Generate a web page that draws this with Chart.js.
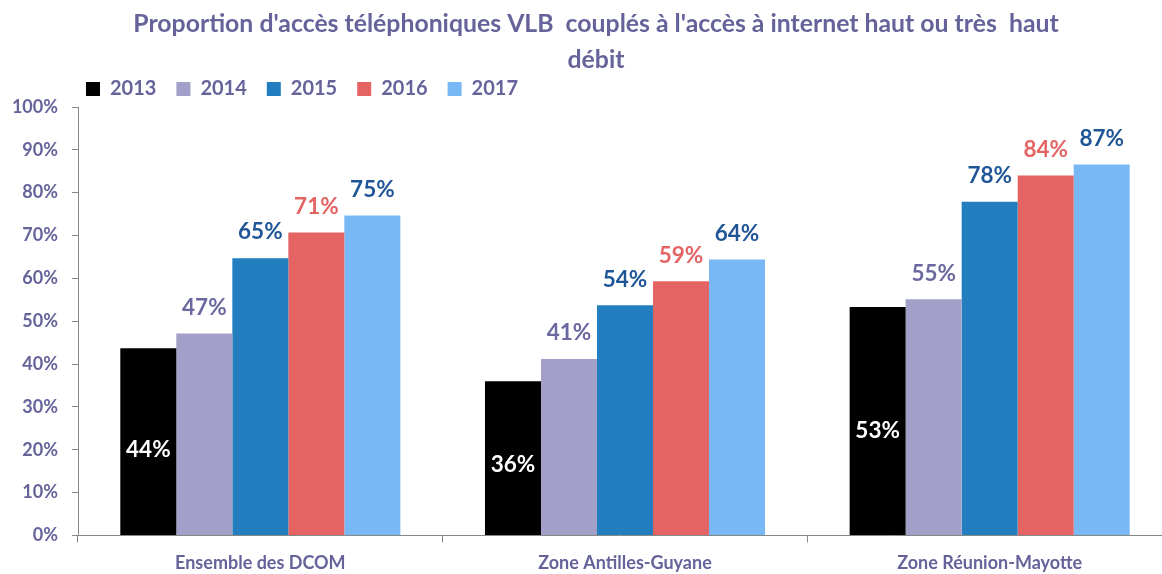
<!DOCTYPE html>
<html>
<head>
<meta charset="utf-8">
<script src="https://cdn.jsdelivr.net/npm/chart.js@4/dist/chart.umd.min.js"></script>
<style>
  html, body { margin: 0; padding: 0; background: #fff; }
  #wrap { width: 1162px; height: 574px; }
</style>
</head>
<body>
<div id="wrap"><canvas id="accessChart" width="1162" height="574"></canvas></div>
<script>
// categories and values (percent)
const categories = ['Ensemble des DCOM', 'Zone Antilles-Guyane', 'Zone Réunion-Mayotte'];
const years = ['2013', '2014', '2015', '2016', '2017'];
const values2013 = [43.7, 36.0, 53.3];
const values2014 = [47.1, 41.2, 55.1];
const values2015 = [64.7, 53.7, 77.9];
const values2016 = [70.7, 59.3, 84.0];
const values2017 = [74.7, 64.4, 86.6];
const yTicks = [0, 10, 20, 30, 40, 50, 60, 70, 80, 90, 100];

const barColors = ['#000000', '#A29FC9', '#237EC0', '#E46464', '#78B9F5'];
const labelColors = ['#FFFFFF', '#6B689F', '#1F5597', '#E46464', '#1F5597'];
const textColor = '#65639A';
const axisColor = '#878787';
const fontFamily = "Lato, 'Open Sans', sans-serif";

document.addEventListener('DOMContentLoaded', function() {
    const ctx = document.getElementById('accessChart').getContext('2d');
    const seriesValues = [values2013, values2014, values2015, values2016, values2017];

    // value labels: first series inside the bar, others above it
    const valueLabels = {
        id: 'valueLabels',
        afterDatasetsDraw(chart) {
            const c = chart.ctx;
            c.save();
            c.font = 'bold 22.5px ' + fontFamily;
            c.textAlign = 'center';
            c.textBaseline = 'middle';
            chart.data.datasets.forEach((ds, i) => {
                const meta = chart.getDatasetMeta(i);
                meta.data.forEach((bar, j) => {
                    const text = Math.round(ds.data[j]) + '%';
                    c.fillStyle = labelColors[i];
                    if (i === 0) {
                        c.fillText(text, bar.x, bar.base - (bar.base - bar.y) * 0.456);
                    } else {
                        c.fillText(text, bar.x, bar.y - 26);
                    }
                });
            });
            c.restore();
        }
    };

    // the original plot runs a little past the right edge of the picture,
    // its title is a bit right of centre and its legend a bit lower
    const layoutTweaks = {
        id: 'layoutTweaks',
        afterLayout(chart) {
            const xScale = chart.scales.x;
            const area = chart.chartArea;
            xScale.right = 1172;
            xScale.width = xScale.right - xScale.left;
            xScale.configure();
            area.right = 1172;
            area.width = area.right - area.left;
            if (chart.titleBlock) {
                chart.titleBlock.left += 15;
                chart.titleBlock.right += 15;
            }
            if (chart.legend) {
                chart.legend.left -= 12;
                chart.legend.top += 2;
            }
        }
    };

    new Chart(ctx, {
        type: 'bar',
        data: {
            labels: categories,
            datasets: years.map((year, i) => ({
                label: year,
                data: seriesValues[i],
                backgroundColor: barColors[i],
                borderWidth: 0,
                categoryPercentage: 0.768,
                barPercentage: 1.0
            }))
        },
        options: {
            responsive: false,
            animation: false,
            layout: {
                padding: { left: 0, right: 0, top: 2, bottom: -10 }
            },
            scales: {
                x: {
                    grid: {
                        offset: true,
                        drawOnChartArea: false,
                        drawTicks: true,
                        tickLength: 7,
                        color: axisColor
                    },
                    border: { color: axisColor, width: 1 },
                    ticks: {
                        color: textColor,
                        padding: 10,
                        font: { family: fontFamily, size: 18, weight: 'bold' }
                    }
                },
                y: {
                    min: 0,
                    max: 100,
                    afterBuildTicks: function(scale) {
                        scale.ticks = yTicks.map(v => ({ value: v }));
                    },
                    afterFit: function(scale) {
                        scale.width = 78;
                    },
                    grid: {
                        drawOnChartArea: false,
                        drawTicks: true,
                        tickLength: 6,
                        color: axisColor
                    },
                    border: { color: axisColor, width: 1 },
                    ticks: {
                        color: textColor,
                        padding: 14,
                        font: { family: fontFamily, size: 18, weight: 'bold' },
                        callback: function(value) {
                            return value + '%';
                        }
                    }
                }
            },
            plugins: {
                title: {
                    display: true,
                    text: ["Proportion d'accès téléphoniques VLB  couplés à l'accès à internet haut ou très  haut", 'débit'],
                    color: textColor,
                    font: { family: fontFamily, size: 24.8, weight: 'bold', lineHeight: 36 / 24.8 },
                    padding: { top: 4, bottom: -21 }
                },
                legend: {
                    display: true,
                    position: 'top',
                    align: 'start',
                    fullSize: false,
                    labels: {
                        boxWidth: 14,
                        boxHeight: 14,
                        padding: 20,
                        color: textColor,
                        font: { family: fontFamily, size: 20, weight: 'bold' }
                    }
                },
                tooltip: { enabled: false }
            }
        },
        plugins: [valueLabels, layoutTweaks]
    });
});
</script>
</body>
</html>
